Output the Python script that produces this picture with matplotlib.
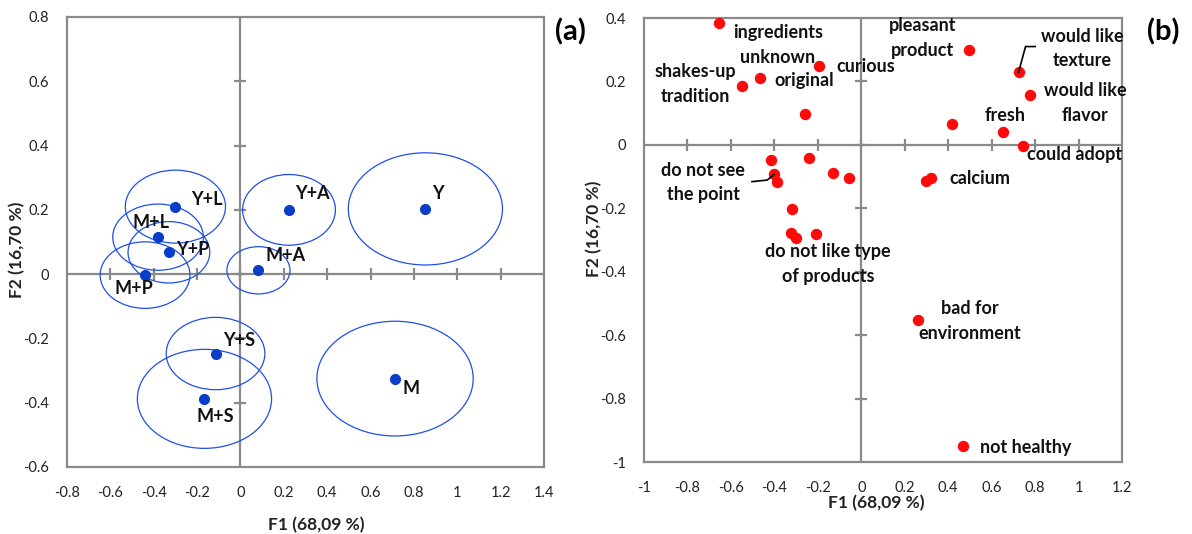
import matplotlib
matplotlib.use("Agg")
import matplotlib.pyplot as plt
from matplotlib.patches import Ellipse
import numpy as np

# ---------------- data: panel (a) ----------------
groups = ["Y", "M", "Y+A", "M+A", "Y+L", "M+L", "Y+P", "M+P", "Y+S", "M+S"]
grp_f1 = [0.853, 0.713, 0.224, 0.083, -0.30, -0.38, -0.33, -0.44, -0.115, -0.166]
grp_f2 = [0.203, -0.325, 0.20, 0.012, 0.21, 0.115, 0.068, -0.003, -0.247, -0.388]
ell_width = [0.711, 0.721, 0.428, 0.291, 0.462, 0.418, 0.377, 0.414, 0.455, 0.619]
ell_height = [0.349, 0.357, 0.220, 0.147, 0.227, 0.206, 0.191, 0.207, 0.225, 0.308]
xticks_a = [-0.8, -0.6, -0.4, -0.2, 0, 0.2, 0.4, 0.6, 0.8, 1, 1.2, 1.4]
yticks_a = [-0.6, -0.4, -0.2, 0, 0.2, 0.4, 0.6, 0.8]

# ---------------- data: panel (b) ----------------
attr_f1 = [-0.653, -0.464, -0.551, -0.196, -0.261, 0.496, 0.724, 0.775, 0.418,
           0.650, 0.745, -0.417, -0.242, -0.401, -0.390, -0.129, -0.058, 0.298,
           0.321, -0.318, -0.325, -0.300, -0.208, 0.263, 0.468]
attr_f2 = [0.383, 0.211, 0.187, 0.250, 0.096, 0.299, 0.229, 0.157, 0.065,
           0.039, -0.003, -0.047, -0.042, -0.093, -0.117, -0.090, -0.105, -0.115,
           -0.103, -0.203, -0.279, -0.294, -0.280, -0.553, -0.949]
attr_labels = ["ingredients\nunknown", "shakes-up\ntradition", "original", "curious",
               "pleasant\nproduct", "would like\ntexture", "would like\nflavor", "fresh",
               "could adopt", "do not see\nthe point", "calcium",
               "do not like type\nof products", "bad for\nenvironment", "not healthy"]
xticks_b = [-1, -0.8, -0.6, -0.4, -0.2, 0, 0.2, 0.4, 0.6, 0.8, 1, 1.2]
yticks_b = [-1, -0.8, -0.6, -0.4, -0.2, 0, 0.2, 0.4]

# ---------------- layout (positions of labels, not data) ----------------
grp_label_pos = [(0.909, 0.252), (0.789, -0.355), (0.332, 0.25), (0.208, 0.058),
                 (-0.157, 0.233), (-0.411, 0.162), (-0.219, 0.076), (-0.493, -0.045),
                 (-0.004, -0.208), (-0.116, -0.444)]
attr_label_pos = [(-0.383, 0.315), (-0.763, 0.192), (-0.263, 0.204), (0.019, 0.247),
                  (0.281, 0.338), (1.019, 0.304), (1.031, 0.133), (0.662, 0.092),
                  (0.980, -0.029), (-0.727, -0.119), (0.544, -0.106),
                  (-0.152, -0.375), (0.50, -0.556), (0.759, -0.953)]
leaders = [[(0.724, 0.229), (0.756, 0.310), (0.800, 0.310)],
           [(-0.503, -0.116), (-0.433, -0.111), (-0.401, -0.093)]]

FONT = "Lato"
plt.rcParams["font.family"] = [FONT, "DejaVu Sans"]
GRAY = "#8a8a8a"
TICKFS = 10.5
LABFS = 13
TITLEFS = 12.5

fig = plt.figure(figsize=(11.92, 5.34), dpi=100)
W, H = 1192, 534
axA = fig.add_axes([67 / W, 1 - 467 / H, (544 - 67) / W, (467 - 17) / H])
axB = fig.add_axes([644 / W, 1 - 462 / H, (1122 - 644) / W, (462 - 18) / H])


def style(ax, xt, yt):
    ax.set_xlim(xt[0], xt[-1])
    ax.set_ylim(yt[0], yt[-1])
    ax.set_xticks(xt)
    ax.set_yticks(yt)
    ax.set_xticklabels([f"{v:g}" for v in xt])
    ax.set_yticklabels([f"{v:g}" for v in yt])
    ax.tick_params(length=0, labelsize=TICKFS, colors="#222222")
    ax.tick_params(axis="x", pad=14)
    ax.tick_params(axis="y", pad=13)
    for s in ax.spines.values():
        s.set_color(GRAY)
        s.set_linewidth(1.6)
    ax.axhline(0, color=GRAY, lw=1.6, zorder=1)
    ax.axvline(0, color=GRAY, lw=1.6, zorder=1)
    ax.plot(xt[1:-1], np.zeros(len(xt) - 2), ls="none", marker="|", ms=8,
            mew=1.6, color=GRAY, zorder=1)
    ax.plot(np.zeros(len(yt) - 2), yt[1:-1], ls="none", marker="_", ms=8,
            mew=1.6, color=GRAY, zorder=1)


style(axA, xticks_a, yticks_a)
style(axB, xticks_b, yticks_b)

# panel a
for x, y, w, h in zip(grp_f1, grp_f2, ell_width, ell_height):
    axA.add_patch(Ellipse((x, y), w, h, fill=False, edgecolor="#1f50e6", lw=0.9, zorder=2))
axA.plot(grp_f1, grp_f2, ls="none", marker="o", ms=7, color="#0a3ec8", zorder=3)
for name, (lx, ly) in zip(groups, grp_label_pos):
    axA.text(lx, ly, name, ha="center", va="center", fontsize=LABFS,
             fontweight="bold", color="#111111", zorder=4)

# panel b
axB.plot(attr_f1, attr_f2, ls="none", marker="o", ms=7.2, color="#ff0a0a", zorder=3,
         clip_on=False)
for lab, (lx, ly) in zip(attr_labels, attr_label_pos):
    axB.text(lx, ly, lab, ha="center", va="center", fontsize=LABFS,
             fontweight="bold", color="#111111", linespacing=1.55, zorder=4,
             clip_on=False)
for seg in leaders:
    xs, ys = zip(*seg)
    axB.plot(xs, ys, color="black", lw=1.2, zorder=4, clip_on=False)

# axis titles
fig.text(17 / W, 1 - 250 / H, "F2 (16,70 %)", rotation=90, ha="center", va="center",
         fontsize=TITLEFS, fontweight="bold", color="#222222")
fig.text(316 / W, 1 - 525 / H, "F1 (68,09 %)", ha="center", va="center",
         fontsize=TITLEFS, fontweight="bold", color="#222222")
fig.text(594 / W, 1 - 229 / H, "F2 (16,70 %)", rotation=90, ha="center", va="center",
         fontsize=TITLEFS, fontweight="bold", color="#222222")
fig.text(876 / W, 1 - 503 / H, "F1 (68,09 %)", ha="center", va="center",
         fontsize=TITLEFS, fontweight="bold", color="#222222")

fig.text(570 / W, 1 - 32 / H, "(a)", ha="center", va="center", fontsize=21,
         fontweight="bold", color="black")
fig.text(1163 / W, 1 - 32 / H, "(b)", ha="center", va="center", fontsize=21,
         fontweight="bold", color="black")

fig.savefig("out.png", dpi=100, facecolor="white")
